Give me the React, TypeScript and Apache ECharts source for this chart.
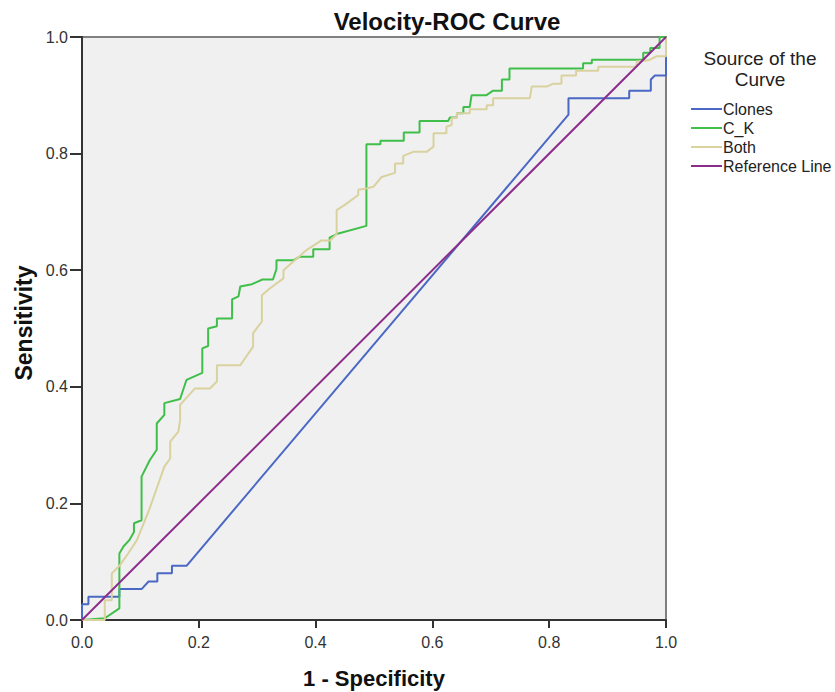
import React, { useEffect, useRef } from "react";
import * as echarts from "echarts";

const chartTitle = "Velocity-ROC Curve";
const xAxisTitle = "1 - Specificity";
const yAxisTitle = "Sensitivity";
const legendTitle = ["Source of the", "Curve"];
const seriesNames = ["Clones", "C_K", "Both", "Reference Line"];

const clonesPoints: [number, number][] = [
  [0, 0], [0, 0.027], [0.011, 0.027], [0.011, 0.04], [0.064, 0.04], [0.064, 0.053],
  [0.102, 0.053], [0.114, 0.066], [0.129, 0.066], [0.129, 0.08], [0.154, 0.08],
  [0.154, 0.093], [0.179, 0.093], [0.833, 0.867], [0.833, 0.895], [0.937, 0.895],
  [0.937, 0.908], [0.974, 0.908], [0.974, 0.927], [0.981, 0.934], [1.0, 0.934], [1, 1],
];

const ckPoints: [number, number][] = [
  [0, 0], [0.039, 0.003], [0.064, 0.02], [0.064, 0.114], [0.071, 0.126], [0.081, 0.137],
  [0.089, 0.151], [0.089, 0.166], [0.102, 0.171], [0.102, 0.246], [0.116, 0.274],
  [0.128, 0.292], [0.128, 0.337], [0.141, 0.352], [0.141, 0.372], [0.168, 0.379],
  [0.179, 0.412], [0.206, 0.424], [0.206, 0.466], [0.216, 0.47], [0.216, 0.5],
  [0.231, 0.504], [0.231, 0.517], [0.257, 0.517], [0.257, 0.55], [0.268, 0.555],
  [0.271, 0.572], [0.291, 0.576], [0.309, 0.584], [0.327, 0.584], [0.333, 0.602],
  [0.333, 0.617], [0.362, 0.617], [0.372, 0.623], [0.396, 0.623], [0.396, 0.636],
  [0.424, 0.636], [0.424, 0.656], [0.436, 0.662], [0.487, 0.676], [0.487, 0.816],
  [0.511, 0.816], [0.511, 0.822], [0.551, 0.822], [0.551, 0.836], [0.578, 0.836],
  [0.578, 0.856], [0.627, 0.856], [0.63, 0.862], [0.642, 0.862], [0.642, 0.869],
  [0.653, 0.869], [0.653, 0.88], [0.664, 0.88], [0.667, 0.9], [0.692, 0.9],
  [0.704, 0.908], [0.719, 0.908], [0.719, 0.927], [0.732, 0.927], [0.732, 0.946],
  [0.858, 0.946], [0.858, 0.955], [0.873, 0.955], [0.873, 0.961], [0.961, 0.961],
  [0.961, 0.973], [0.973, 0.973], [0.973, 0.981], [0.989, 0.981], [0.989, 1.0], [1, 1],
];

const bothPoints: [number, number][] = [
  [0, 0], [0.039, 0], [0.039, 0.034], [0.051, 0.034], [0.051, 0.08], [0.065, 0.094],
  [0.079, 0.114], [0.094, 0.137], [0.115, 0.189], [0.128, 0.226], [0.141, 0.263],
  [0.151, 0.277], [0.151, 0.306], [0.165, 0.323], [0.168, 0.343], [0.168, 0.369],
  [0.193, 0.397], [0.219, 0.397], [0.231, 0.409], [0.231, 0.437], [0.271, 0.437],
  [0.293, 0.469], [0.293, 0.492], [0.308, 0.512], [0.308, 0.557], [0.322, 0.569],
  [0.345, 0.586], [0.345, 0.6], [0.362, 0.615], [0.385, 0.635], [0.41, 0.651],
  [0.425, 0.651], [0.436, 0.662], [0.436, 0.703], [0.45, 0.712], [0.473, 0.729],
  [0.473, 0.738], [0.487, 0.74], [0.499, 0.743], [0.513, 0.76], [0.536, 0.767],
  [0.536, 0.783], [0.55, 0.783], [0.55, 0.796], [0.567, 0.803], [0.59, 0.803],
  [0.602, 0.812], [0.602, 0.835], [0.624, 0.835], [0.624, 0.846], [0.633, 0.849],
  [0.633, 0.861], [0.642, 0.861], [0.642, 0.869], [0.664, 0.869], [0.664, 0.876],
  [0.693, 0.876], [0.693, 0.883], [0.704, 0.883], [0.704, 0.895], [0.767, 0.895],
  [0.77, 0.915], [0.796, 0.915], [0.807, 0.92], [0.821, 0.92], [0.821, 0.934],
  [0.846, 0.934], [0.846, 0.942], [0.884, 0.942], [0.884, 0.949], [0.949, 0.949],
  [0.95, 0.958], [0.97, 0.96], [0.984, 0.967], [1.0, 0.967], [1, 1],
];

const referencePoints: [number, number][] = [[0, 0], [1, 1]];

const seriesColors = ["#4a68c4", "#3fbf4a", "#d9d29e", "#8c2d8c"];
const FONT = "'Liberation Sans', Arial, sans-serif";

export default function App() {
  const ref = useRef<HTMLDivElement>(null);
  useEffect(() => {
    if (!ref.current) return;
    const chart = echarts.init(ref.current, null, { renderer: "svg" });
    const allData = [clonesPoints, ckPoints, bothPoints, referencePoints];
    chart.setOption({
      animation: false,
      backgroundColor: "#ffffff",
      textStyle: { fontFamily: FONT },
      grid: {
        left: 82, top: 37, width: 584, height: 583,
        show: true, backgroundColor: "#f0f0f0", borderColor: "#808080", borderWidth: 2,
      },
      xAxis: {
        type: "value", min: 0, max: 1, interval: 0.2,
        axisLine: { show: true, onZero: false, lineStyle: { color: "#333", width: 2 } },
        axisTick: { show: true, length: 8, lineStyle: { color: "#333", width: 2 } },
        axisLabel: { color: "#333", fontSize: 16, fontFamily: FONT, margin: 14, formatter: (v: number) => v.toFixed(1) },
        splitLine: { show: false },
      },
      yAxis: {
        type: "value", min: 0, max: 1, interval: 0.2,
        axisLine: { show: true, onZero: false, lineStyle: { color: "#333", width: 2 } },
        axisTick: { show: true, length: 12, lineStyle: { color: "#333", width: 2 } },
        axisLabel: { color: "#333", fontSize: 16, fontFamily: FONT, margin: 14, formatter: (v: number) => v.toFixed(1) },
        splitLine: { show: false },
      },
      legend: {
        orient: "vertical", left: 686, top: 96, itemWidth: 31, itemHeight: 2, itemGap: 3,
        icon: "rect",
        data: seriesNames,
        textStyle: { fontSize: 16, color: "#222", fontFamily: FONT, padding: [0, 0, 0, -4] },
      },
      graphic: [
        { type: "text", x: 447, y: 21, style: { text: chartTitle, fontSize: 24, fontWeight: "bold", fontFamily: FONT, fill: "#111", textAlign: "center", textVerticalAlign: "middle" } },
        { type: "text", x: 374, y: 678, style: { text: xAxisTitle, fontSize: 22, fontWeight: "bold", fontFamily: FONT, fill: "#111", textAlign: "center", textVerticalAlign: "middle" } },
        { type: "text", x: 24, y: 323, rotation: Math.PI / 2, style: { text: yAxisTitle, fontSize: 23, fontWeight: "bold", fontFamily: FONT, fill: "#111", textAlign: "center", textVerticalAlign: "middle" } },
        { type: "text", x: 760, y: 58, style: { text: legendTitle[0], fontSize: 19, fontFamily: FONT, fill: "#222", textAlign: "center", textVerticalAlign: "middle" } },
        { type: "text", x: 760, y: 79, style: { text: legendTitle[1], fontSize: 19, fontFamily: FONT, fill: "#222", textAlign: "center", textVerticalAlign: "middle" } },
      ],
      series: seriesNames.map((name, i) => ({
        name,
        type: "line",
        data: allData[i],
        showSymbol: false,
        symbol: "none",
        color: seriesColors[i],
        lineStyle: { color: seriesColors[i], width: 2 },
        z: 2 + i,
      })),
    });
    return () => chart.dispose();
  }, []);
  return <div ref={ref} style={{ position: "fixed", left: 0, top: 0, width: 835, height: 692 }} />;
}
